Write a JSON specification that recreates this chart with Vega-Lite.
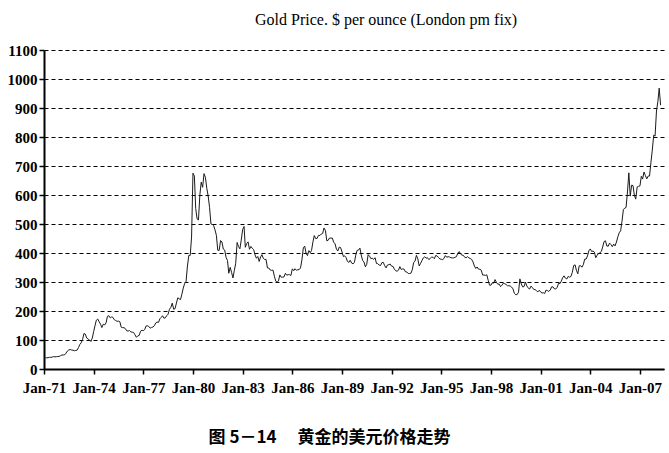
{
  "$schema": "https://vega.github.io/schema/vega-lite/v6.json",
  "autosize": "none",
  "width": 620,
  "height": 319,
  "padding": {"left": 44, "top": 50, "right": 5, "bottom": 84},
  "background": "white",
  "title": {
    "text": "Gold Price. $ per ounce (London pm fix)",
    "anchor": "start",
    "frame": "group",
    "dx": 211,
    "offset": 15,
    "font": "Liberation Serif",
    "fontSize": 16,
    "fontWeight": "normal",
    "color": "black"
  },
  "data": {
    "values": [
      {"date": "1971-01", "price": 37.9}, {"date": "1971-02", "price": 38.7}, {"date": "1971-03", "price": 38.9}, {"date": "1971-04", "price": 39.0},
      {"date": "1971-05", "price": 40.5}, {"date": "1971-06", "price": 40.1}, {"date": "1971-07", "price": 41.0}, {"date": "1971-08", "price": 42.7},
      {"date": "1971-09", "price": 42.0}, {"date": "1971-10", "price": 42.5}, {"date": "1971-11", "price": 42.9}, {"date": "1971-12", "price": 43.5},
      {"date": "1972-01", "price": 45.8}, {"date": "1972-02", "price": 48.3}, {"date": "1972-03", "price": 48.3}, {"date": "1972-04", "price": 49.0},
      {"date": "1972-05", "price": 54.6}, {"date": "1972-06", "price": 62.1}, {"date": "1972-07", "price": 65.7}, {"date": "1972-08", "price": 67.0},
      {"date": "1972-09", "price": 65.5}, {"date": "1972-10", "price": 64.9}, {"date": "1972-11", "price": 62.9}, {"date": "1972-12", "price": 63.9},
      {"date": "1973-01", "price": 65.1}, {"date": "1973-02", "price": 74.2}, {"date": "1973-03", "price": 84.4}, {"date": "1973-04", "price": 90.5},
      {"date": "1973-05", "price": 102.0}, {"date": "1973-06", "price": 122.5}, {"date": "1973-07", "price": 120.2}, {"date": "1973-08", "price": 106.8},
      {"date": "1973-09", "price": 103.0}, {"date": "1973-10", "price": 100.1}, {"date": "1973-11", "price": 94.8}, {"date": "1973-12", "price": 106.7},
      {"date": "1974-01", "price": 129.2}, {"date": "1974-02", "price": 150.2}, {"date": "1974-03", "price": 168.4}, {"date": "1974-04", "price": 172.2},
      {"date": "1974-05", "price": 163.3}, {"date": "1974-06", "price": 154.1}, {"date": "1974-07", "price": 142.9}, {"date": "1974-08", "price": 154.6},
      {"date": "1974-09", "price": 151.8}, {"date": "1974-10", "price": 158.8}, {"date": "1974-11", "price": 181.7}, {"date": "1974-12", "price": 183.9},
      {"date": "1975-01", "price": 176.3}, {"date": "1975-02", "price": 179.6}, {"date": "1975-03", "price": 178.2}, {"date": "1975-04", "price": 169.9},
      {"date": "1975-05", "price": 167.2}, {"date": "1975-06", "price": 164.2}, {"date": "1975-07", "price": 165.2}, {"date": "1975-08", "price": 163.1},
      {"date": "1975-09", "price": 144.1}, {"date": "1975-10", "price": 142.7}, {"date": "1975-11", "price": 142.5}, {"date": "1975-12", "price": 139.3},
      {"date": "1976-01", "price": 131.6}, {"date": "1976-02", "price": 131.0}, {"date": "1976-03", "price": 132.6}, {"date": "1976-04", "price": 127.9},
      {"date": "1976-05", "price": 126.9}, {"date": "1976-06", "price": 125.8}, {"date": "1976-07", "price": 117.8}, {"date": "1976-08", "price": 109.3},
      {"date": "1976-09", "price": 114.3}, {"date": "1976-10", "price": 116.0}, {"date": "1976-11", "price": 130.3}, {"date": "1976-12", "price": 133.9},
      {"date": "1977-01", "price": 132.3}, {"date": "1977-02", "price": 136.3}, {"date": "1977-03", "price": 148.2}, {"date": "1977-04", "price": 149.1},
      {"date": "1977-05", "price": 146.8}, {"date": "1977-06", "price": 140.8}, {"date": "1977-07", "price": 143.3}, {"date": "1977-08", "price": 144.8},
      {"date": "1977-09", "price": 149.2}, {"date": "1977-10", "price": 158.6}, {"date": "1977-11", "price": 162.0}, {"date": "1977-12", "price": 160.5},
      {"date": "1978-01", "price": 173.2}, {"date": "1978-02", "price": 178.2}, {"date": "1978-03", "price": 183.7}, {"date": "1978-04", "price": 175.2},
      {"date": "1978-05", "price": 176.3}, {"date": "1978-06", "price": 183.9}, {"date": "1978-07", "price": 188.9}, {"date": "1978-08", "price": 206.1},
      {"date": "1978-09", "price": 212.9}, {"date": "1978-10", "price": 227.2}, {"date": "1978-11", "price": 206.1}, {"date": "1978-12", "price": 207.8},
      {"date": "1979-01", "price": 227.3}, {"date": "1979-02", "price": 245.7}, {"date": "1979-03", "price": 242.1}, {"date": "1979-04", "price": 239.2},
      {"date": "1979-05", "price": 257.6}, {"date": "1979-06", "price": 279.1}, {"date": "1979-07", "price": 294.7}, {"date": "1979-08", "price": 300.8},
      {"date": "1979-09", "price": 355.1}, {"date": "1979-10", "price": 391.7}, {"date": "1979-11", "price": 391.9}, {"date": "1979-12", "price": 455.1},
      {"date": "1980-01", "price": 675.3}, {"date": "1980-02", "price": 665.3}, {"date": "1980-03", "price": 553.6}, {"date": "1980-04", "price": 517.4},
      {"date": "1980-05", "price": 513.8}, {"date": "1980-06", "price": 600.7}, {"date": "1980-07", "price": 644.3}, {"date": "1980-08", "price": 626.5},
      {"date": "1980-09", "price": 673.6}, {"date": "1980-10", "price": 661.1}, {"date": "1980-11", "price": 623.5}, {"date": "1980-12", "price": 596.7},
      {"date": "1981-01", "price": 557.6}, {"date": "1981-02", "price": 499.8}, {"date": "1981-03", "price": 498.6}, {"date": "1981-04", "price": 494.6},
      {"date": "1981-05", "price": 479.7}, {"date": "1981-06", "price": 460.8}, {"date": "1981-07", "price": 409.3}, {"date": "1981-08", "price": 409.1},
      {"date": "1981-09", "price": 443.0}, {"date": "1981-10", "price": 437.8}, {"date": "1981-11", "price": 413.4}, {"date": "1981-12", "price": 410.1},
      {"date": "1982-01", "price": 384.2}, {"date": "1982-02", "price": 374.1}, {"date": "1982-03", "price": 330.1}, {"date": "1982-04", "price": 350.5},
      {"date": "1982-05", "price": 333.5}, {"date": "1982-06", "price": 314.0}, {"date": "1982-07", "price": 339.6}, {"date": "1982-08", "price": 364.4},
      {"date": "1982-09", "price": 436.4}, {"date": "1982-10", "price": 422.4}, {"date": "1982-11", "price": 414.6}, {"date": "1982-12", "price": 444.4},
      {"date": "1983-01", "price": 481.3}, {"date": "1983-02", "price": 491.5}, {"date": "1983-03", "price": 419.6}, {"date": "1983-04", "price": 432.8},
      {"date": "1983-05", "price": 438.4}, {"date": "1983-06", "price": 412.9}, {"date": "1983-07", "price": 422.7}, {"date": "1983-08", "price": 416.3},
      {"date": "1983-09", "price": 411.6}, {"date": "1983-10", "price": 393.5}, {"date": "1983-11", "price": 381.8}, {"date": "1983-12", "price": 388.0},
      {"date": "1984-01", "price": 370.9}, {"date": "1984-02", "price": 386.4}, {"date": "1984-03", "price": 394.3}, {"date": "1984-04", "price": 381.6},
      {"date": "1984-05", "price": 377.7}, {"date": "1984-06", "price": 377.6}, {"date": "1984-07", "price": 348.4}, {"date": "1984-08", "price": 348.2},
      {"date": "1984-09", "price": 341.2}, {"date": "1984-10", "price": 340.2}, {"date": "1984-11", "price": 340.9}, {"date": "1984-12", "price": 320.2},
      {"date": "1985-01", "price": 302.7}, {"date": "1985-02", "price": 299.1}, {"date": "1985-03", "price": 303.9}, {"date": "1985-04", "price": 324.4},
      {"date": "1985-05", "price": 316.3}, {"date": "1985-06", "price": 316.8}, {"date": "1985-07", "price": 317.4}, {"date": "1985-08", "price": 330.1},
      {"date": "1985-09", "price": 323.5}, {"date": "1985-10", "price": 325.3}, {"date": "1985-11", "price": 325.3}, {"date": "1985-12", "price": 322.4},
      {"date": "1986-01", "price": 345.4}, {"date": "1986-02", "price": 338.9}, {"date": "1986-03", "price": 345.7}, {"date": "1986-04", "price": 340.4},
      {"date": "1986-05", "price": 342.5}, {"date": "1986-06", "price": 342.8}, {"date": "1986-07", "price": 348.5}, {"date": "1986-08", "price": 376.5},
      {"date": "1986-09", "price": 417.8}, {"date": "1986-10", "price": 423.6}, {"date": "1986-11", "price": 398.4}, {"date": "1986-12", "price": 391.1},
      {"date": "1987-01", "price": 408.1}, {"date": "1987-02", "price": 401.1}, {"date": "1987-03", "price": 408.9}, {"date": "1987-04", "price": 438.5},
      {"date": "1987-05", "price": 460.2}, {"date": "1987-06", "price": 449.6}, {"date": "1987-07", "price": 450.4}, {"date": "1987-08", "price": 460.8},
      {"date": "1987-09", "price": 460.2}, {"date": "1987-10", "price": 465.4}, {"date": "1987-11", "price": 467.3}, {"date": "1987-12", "price": 486.3},
      {"date": "1988-01", "price": 477.8}, {"date": "1988-02", "price": 442.1}, {"date": "1988-03", "price": 443.6}, {"date": "1988-04", "price": 451.7},
      {"date": "1988-05", "price": 451.3}, {"date": "1988-06", "price": 451.6}, {"date": "1988-07", "price": 437.6}, {"date": "1988-08", "price": 431.7},
      {"date": "1988-09", "price": 413.4}, {"date": "1988-10", "price": 406.9}, {"date": "1988-11", "price": 420.2}, {"date": "1988-12", "price": 418.8},
      {"date": "1989-01", "price": 404.0}, {"date": "1989-02", "price": 387.8}, {"date": "1989-03", "price": 390.2}, {"date": "1989-04", "price": 384.3},
      {"date": "1989-05", "price": 371.0}, {"date": "1989-06", "price": 367.6}, {"date": "1989-07", "price": 375.0}, {"date": "1989-08", "price": 365.4},
      {"date": "1989-09", "price": 362.6}, {"date": "1989-10", "price": 367.0}, {"date": "1989-11", "price": 392.7}, {"date": "1989-12", "price": 409.1},
      {"date": "1990-01", "price": 410.1}, {"date": "1990-02", "price": 416.8}, {"date": "1990-03", "price": 393.1}, {"date": "1990-04", "price": 374.3},
      {"date": "1990-05", "price": 369.1}, {"date": "1990-06", "price": 352.3}, {"date": "1990-07", "price": 361.2}, {"date": "1990-08", "price": 394.6},
      {"date": "1990-09", "price": 388.8}, {"date": "1990-10", "price": 380.7}, {"date": "1990-11", "price": 381.8}, {"date": "1990-12", "price": 378.2},
      {"date": "1991-01", "price": 383.6}, {"date": "1991-02", "price": 363.8}, {"date": "1991-03", "price": 363.3}, {"date": "1991-04", "price": 358.4},
      {"date": "1991-05", "price": 356.8}, {"date": "1991-06", "price": 366.7}, {"date": "1991-07", "price": 367.7}, {"date": "1991-08", "price": 356.4},
      {"date": "1991-09", "price": 348.7}, {"date": "1991-10", "price": 358.7}, {"date": "1991-11", "price": 359.9}, {"date": "1991-12", "price": 361.7},
      {"date": "1992-01", "price": 354.5}, {"date": "1992-02", "price": 353.9}, {"date": "1992-03", "price": 344.3}, {"date": "1992-04", "price": 338.6},
      {"date": "1992-05", "price": 337.2}, {"date": "1992-06", "price": 340.8}, {"date": "1992-07", "price": 353.1}, {"date": "1992-08", "price": 343.0},
      {"date": "1992-09", "price": 345.4}, {"date": "1992-10", "price": 344.4}, {"date": "1992-11", "price": 335.0}, {"date": "1992-12", "price": 334.8},
      {"date": "1993-01", "price": 329.0}, {"date": "1993-02", "price": 329.3}, {"date": "1993-03", "price": 330.1}, {"date": "1993-04", "price": 342.2},
      {"date": "1993-05", "price": 367.2}, {"date": "1993-06", "price": 371.9}, {"date": "1993-07", "price": 392.0}, {"date": "1993-08", "price": 379.8},
      {"date": "1993-09", "price": 355.3}, {"date": "1993-10", "price": 364.2}, {"date": "1993-11", "price": 373.8}, {"date": "1993-12", "price": 383.3},
      {"date": "1994-01", "price": 387.0}, {"date": "1994-02", "price": 381.9}, {"date": "1994-03", "price": 384.1}, {"date": "1994-04", "price": 377.3},
      {"date": "1994-05", "price": 381.4}, {"date": "1994-06", "price": 385.6}, {"date": "1994-07", "price": 385.5}, {"date": "1994-08", "price": 380.4},
      {"date": "1994-09", "price": 391.6}, {"date": "1994-10", "price": 389.8}, {"date": "1994-11", "price": 384.4}, {"date": "1994-12", "price": 379.3},
      {"date": "1995-01", "price": 378.6}, {"date": "1995-02", "price": 376.5}, {"date": "1995-03", "price": 382.1}, {"date": "1995-04", "price": 391.0},
      {"date": "1995-05", "price": 385.2}, {"date": "1995-06", "price": 387.6}, {"date": "1995-07", "price": 386.2}, {"date": "1995-08", "price": 383.7},
      {"date": "1995-09", "price": 383.1}, {"date": "1995-10", "price": 383.1}, {"date": "1995-11", "price": 385.3}, {"date": "1995-12", "price": 387.4},
      {"date": "1996-01", "price": 399.5}, {"date": "1996-02", "price": 404.8}, {"date": "1996-03", "price": 396.2}, {"date": "1996-04", "price": 392.9},
      {"date": "1996-05", "price": 392.0}, {"date": "1996-06", "price": 385.3}, {"date": "1996-07", "price": 383.5}, {"date": "1996-08", "price": 387.5},
      {"date": "1996-09", "price": 383.1}, {"date": "1996-10", "price": 381.1}, {"date": "1996-11", "price": 377.9}, {"date": "1996-12", "price": 369.2},
      {"date": "1997-01", "price": 355.0}, {"date": "1997-02", "price": 346.6}, {"date": "1997-03", "price": 351.8}, {"date": "1997-04", "price": 344.5},
      {"date": "1997-05", "price": 343.8}, {"date": "1997-06", "price": 340.8}, {"date": "1997-07", "price": 324.1}, {"date": "1997-08", "price": 324.0},
      {"date": "1997-09", "price": 322.8}, {"date": "1997-10", "price": 324.9}, {"date": "1997-11", "price": 306.0}, {"date": "1997-12", "price": 289.2},
      {"date": "1998-01", "price": 289.0}, {"date": "1998-02", "price": 297.5}, {"date": "1998-03", "price": 295.9}, {"date": "1998-04", "price": 308.4},
      {"date": "1998-05", "price": 299.1}, {"date": "1998-06", "price": 292.3}, {"date": "1998-07", "price": 292.9}, {"date": "1998-08", "price": 284.1},
      {"date": "1998-09", "price": 289.0}, {"date": "1998-10", "price": 296.0}, {"date": "1998-11", "price": 294.1}, {"date": "1998-12", "price": 291.6},
      {"date": "1999-01", "price": 287.1}, {"date": "1999-02", "price": 287.3}, {"date": "1999-03", "price": 285.9}, {"date": "1999-04", "price": 282.6},
      {"date": "1999-05", "price": 276.4}, {"date": "1999-06", "price": 261.3}, {"date": "1999-07", "price": 256.1}, {"date": "1999-08", "price": 256.7},
      {"date": "1999-09", "price": 264.7}, {"date": "1999-10", "price": 310.7}, {"date": "1999-11", "price": 293.2}, {"date": "1999-12", "price": 283.1},
      {"date": "2000-01", "price": 284.3}, {"date": "2000-02", "price": 300.0}, {"date": "2000-03", "price": 286.4}, {"date": "2000-04", "price": 280.0},
      {"date": "2000-05", "price": 275.3}, {"date": "2000-06", "price": 285.7}, {"date": "2000-07", "price": 281.6}, {"date": "2000-08", "price": 274.5},
      {"date": "2000-09", "price": 273.7}, {"date": "2000-10", "price": 270.0}, {"date": "2000-11", "price": 266.0}, {"date": "2000-12", "price": 271.5},
      {"date": "2001-01", "price": 265.5}, {"date": "2001-02", "price": 261.9}, {"date": "2001-03", "price": 263.0}, {"date": "2001-04", "price": 260.5},
      {"date": "2001-05", "price": 272.4}, {"date": "2001-06", "price": 270.2}, {"date": "2001-07", "price": 267.5}, {"date": "2001-08", "price": 272.4},
      {"date": "2001-09", "price": 283.4}, {"date": "2001-10", "price": 283.1}, {"date": "2001-11", "price": 276.2}, {"date": "2001-12", "price": 275.9},
      {"date": "2002-01", "price": 281.7}, {"date": "2002-02", "price": 295.5}, {"date": "2002-03", "price": 294.0}, {"date": "2002-04", "price": 302.7},
      {"date": "2002-05", "price": 314.5}, {"date": "2002-06", "price": 321.2}, {"date": "2002-07", "price": 313.3}, {"date": "2002-08", "price": 310.3},
      {"date": "2002-09", "price": 319.2}, {"date": "2002-10", "price": 316.6}, {"date": "2002-11", "price": 319.2}, {"date": "2002-12", "price": 333.4},
      {"date": "2003-01", "price": 356.9}, {"date": "2003-02", "price": 359.0}, {"date": "2003-03", "price": 340.6}, {"date": "2003-04", "price": 328.2},
      {"date": "2003-05", "price": 355.7}, {"date": "2003-06", "price": 356.4}, {"date": "2003-07", "price": 351.0}, {"date": "2003-08", "price": 359.8},
      {"date": "2003-09", "price": 378.9}, {"date": "2003-10", "price": 378.9}, {"date": "2003-11", "price": 389.9}, {"date": "2003-12", "price": 407.6},
      {"date": "2004-01", "price": 414.0}, {"date": "2004-02", "price": 405.3}, {"date": "2004-03", "price": 406.7}, {"date": "2004-04", "price": 403.0},
      {"date": "2004-05", "price": 383.8}, {"date": "2004-06", "price": 392.4}, {"date": "2004-07", "price": 398.1}, {"date": "2004-08", "price": 400.5},
      {"date": "2004-09", "price": 405.3}, {"date": "2004-10", "price": 420.5}, {"date": "2004-11", "price": 439.4}, {"date": "2004-12", "price": 442.1},
      {"date": "2005-01", "price": 424.0}, {"date": "2005-02", "price": 423.4}, {"date": "2005-03", "price": 434.2}, {"date": "2005-04", "price": 429.2},
      {"date": "2005-05", "price": 421.9}, {"date": "2005-06", "price": 430.7}, {"date": "2005-07", "price": 424.5}, {"date": "2005-08", "price": 437.9},
      {"date": "2005-09", "price": 456.0}, {"date": "2005-10", "price": 469.9}, {"date": "2005-11", "price": 476.7}, {"date": "2005-12", "price": 509.4},
      {"date": "2006-01", "price": 549.9}, {"date": "2006-02", "price": 555.0}, {"date": "2006-03", "price": 557.1}, {"date": "2006-04", "price": 610.6},
      {"date": "2006-05", "price": 676.5}, {"date": "2006-06", "price": 596.2}, {"date": "2006-07", "price": 633.7}, {"date": "2006-08", "price": 632.6},
      {"date": "2006-09", "price": 598.2}, {"date": "2006-10", "price": 585.8}, {"date": "2006-11", "price": 627.8}, {"date": "2006-12", "price": 629.8},
      {"date": "2007-01", "price": 631.2}, {"date": "2007-02", "price": 664.8}, {"date": "2007-03", "price": 654.9}, {"date": "2007-04", "price": 679.4},
      {"date": "2007-05", "price": 666.9}, {"date": "2007-06", "price": 655.5}, {"date": "2007-07", "price": 665.3}, {"date": "2007-08", "price": 665.4},
      {"date": "2007-09", "price": 712.7}, {"date": "2007-10", "price": 754.6}, {"date": "2007-11", "price": 806.3}, {"date": "2007-12", "price": 803.2},
      {"date": "2008-01", "price": 889.6}, {"date": "2008-02", "price": 922.3}, {"date": "2008-03", "price": 968.4}, {"date": "2008-04", "price": 909.7}
    ]
  },
  "mark": {"type": "line", "color": "#1a1a1a", "strokeWidth": 1},
  "encoding": {
    "x": {
      "field": "date",
      "type": "temporal",
      "scale": {"type": "utc", "domain": ["1971-01-01", "2008-06-15"]},
      "axis": {
        "values": ["1971-01-01", "1974-01-01", "1977-01-01", "1980-01-01", "1983-01-01", "1986-01-01", "1989-01-01", "1992-01-01", "1995-01-01", "1998-01-01", "2001-01-01", "2004-01-01", "2007-01-01"],
        "format": "%b-%y",
        "grid": false,
        "domainColor": "black",
        "domainWidth": 2,
        "tickColor": "black",
        "tickWidth": 1.5,
        "tickSize": 5,
        "labelFont": "Liberation Serif",
        "labelFontWeight": "bold",
        "labelFontSize": 15,
        "labelColor": "black",
        "labelPadding": 6,
        "labelFlush": false,
        "labelOverlap": false,
        "title": "图 5－14　 黄金的美元价格走势",
        "titleFont": "Noto Sans CJK SC",
        "titleFontWeight": "bold",
        "titleFontSize": 17,
        "titleColor": "black",
        "titleX": 285,
        "titleY": 68,
        "titleAlign": "center",
        "titleBaseline": "middle",
        "titleAnchor": null
      }
    },
    "y": {
      "field": "price",
      "type": "quantitative",
      "scale": {"domain": [0, 1100], "nice": false},
      "axis": {
        "values": [0, 100, 200, 300, 400, 500, 600, 700, 800, 900, 1000, 1100],
        "format": "d",
        "title": null,
        "grid": true,
        "gridColor": "black",
        "gridDash": [4, 3],
        "gridWidth": 1,
        "domainColor": "black",
        "domainWidth": 2,
        "tickColor": "black",
        "tickWidth": 1.5,
        "tickSize": 5,
        "labelFont": "Liberation Serif",
        "labelFontWeight": "bold",
        "labelFontSize": 15,
        "labelColor": "black",
        "labelPadding": 2
      }
    }
  },
  "config": {"view": {"stroke": null}}
}
